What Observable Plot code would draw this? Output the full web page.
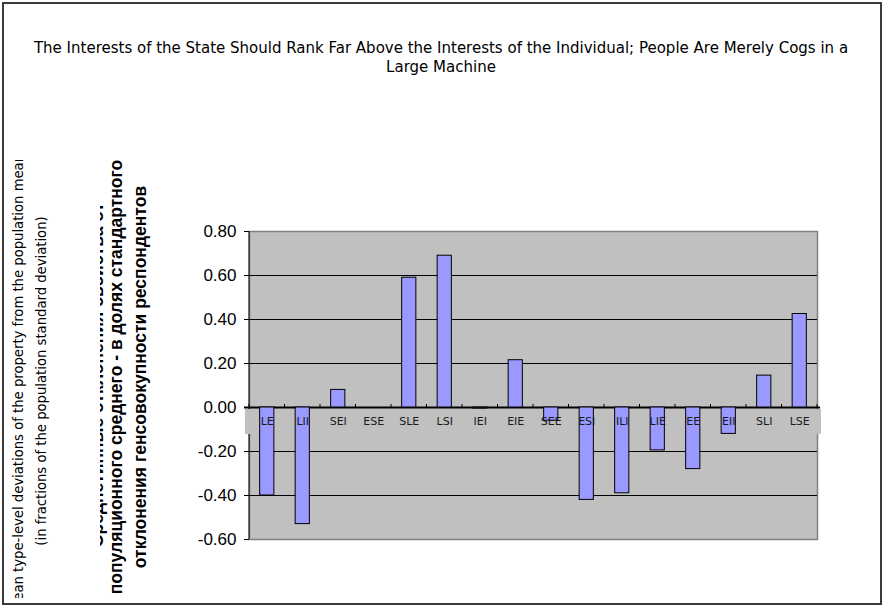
<!DOCTYPE html>
<html><head><meta charset="utf-8">
<script src="https://cdn.jsdelivr.net/npm/d3@7"></script>
<script src="https://cdn.jsdelivr.net/npm/@observablehq/plot@0.6"></script>
<style>
body{margin:0;background:#fff;}
#wrap{position:relative;width:884px;height:607px;overflow:hidden;background:#fff;}
#chart{position:absolute;left:0;top:0;}
.frame{position:absolute;left:2px;top:2px;width:876px;height:599px;border:2px solid #3a3a3a;pointer-events:none;}
.title{position:absolute;left:10px;width:862px;top:39px;text-align:center;font-family:"DejaVu Sans";font-size:15px;line-height:19px;color:#000;}
.clip{position:absolute;overflow:hidden;}
.rot{position:absolute;white-space:nowrap;text-align:center;transform:rotate(-90deg);transform-origin:50% 50%;}
.en{font-family:"DejaVu Sans";font-size:13.2px;line-height:16px;color:#000;}
.ru{font-family:"Liberation Sans",Arial,sans-serif;font-weight:bold;font-size:17.5px;line-height:22px;color:#000;}
</style></head>
<body>
<div id="wrap">
  <div id="chart"></div>
  <div class="title">The Interests of the State Should Rank Far Above the Interests of the Individual; People Are Merely Cogs in a<br>Large Machine</div>
  <div class="clip" id="enclip" style="left:4px;top:160px;width:60px;height:438px;"></div>
  <div class="clip" id="ruclip" style="left:100px;top:156px;width:60px;height:444px;"></div>
  <div class="frame"></div>
</div>
<script>
const categories = ["LE","LII","SEI","ESE","SLE","LSI","IEI","EIE","SEE","ESI","ILI","LIE","EE","EII","SLI","LSE"];
const values = [-0.40,-0.53,0.08,0.00,0.59,0.69,-0.005,0.215,-0.06,-0.42,-0.39,-0.195,-0.28,-0.12,0.145,0.425];
const yTicks = [-0.6,-0.4,-0.2,0,0.2,0.4,0.6,0.8];
const gridTicks = [-0.4,-0.2,0.2,0.4,0.6];
const titleEn = ["Mean type-level deviations of the property from the population mean",
                 "(in fractions of the population standard deviation)"];
const titleRu = ["Среднетипные отклонения свойства от",
                 "популяционного среднего - в долях стандартного",
                 "отклонения генсовокупности респондентов"];

const data = categories.map((c, i) => ({category: c, value: values[i]}));

const W = 884, H = 607, mL = 249, mR = 67, mT = 231, mB = 68;

// left axis line
const axisLine = (index, scales, vals, dims) =>
  d3.create("svg:line")
    .attr("x1", dims.marginLeft).attr("x2", dims.marginLeft)
    .attr("y1", dims.marginTop).attr("y2", dims.height - dims.marginBottom)
    .attr("stroke", "#000").attr("stroke-width", 1).node();

// grey box behind category labels
const labelBox = (index, scales, vals, dims) => {
  const y0 = scales.y(0);
  return d3.create("svg:rect")
    .attr("x", dims.marginLeft - 4).attr("y", y0 + 2)
    .attr("width", dims.width - dims.marginLeft - dims.marginRight + 8)
    .attr("height", 25)
    .attr("fill", "#c0c0c0").node();
};

// small category ticks on zero line
const zeroTicks = (index, scales, vals, dims) => {
  const y0 = scales.y(0);
  const g = d3.create("svg:g").attr("stroke", "#000");
  const inner = dims.width - dims.marginLeft - dims.marginRight;
  const n = categories.length;
  for (let k = 0; k <= n; k++) {
    const xx = dims.marginLeft + k * inner / n;
    g.append("line").attr("x1", xx).attr("x2", xx).attr("y1", y0 - 3).attr("y2", y0);
  }
  return g.node();
};

const chart = Plot.plot({
  width: W, height: H,
  marginLeft: mL, marginRight: mR, marginTop: mT, marginBottom: mB,
  style: {background: "transparent", fontFamily: "'Liberation Sans', Arial, sans-serif", fontSize: "17px", color: "#000"},
  x: {domain: categories, paddingInner: 0.6, paddingOuter: 0.3, round: false, axis: null},
  y: {domain: [-0.6, 0.8], axis: null},
  marks: [
    Plot.frame({fill: "#c0c0c0", stroke: "#808080", strokeWidth: 1.5}),
    Plot.ruleY(gridTicks, {stroke: "#000", strokeWidth: 1}),
    axisLine,
    labelBox,
    Plot.ruleY([0], {stroke: "#000", strokeWidth: 2, insetLeft: -5, insetRight: -3}),
    zeroTicks,
    Plot.barY(data, {x: "category", y: "value", fill: "#9999ff", stroke: "#000", strokeWidth: 1}),
    Plot.text(data, {x: "category", y: 0, text: "category", dy: 14, fontSize: 11, fill: "#1a1a1a", fontFamily: "DejaVu Sans"}),
    Plot.axisY({ticks: yTicks, tickFormat: d => d.toFixed(2), tickSize: 5, tickPadding: 8, label: null, stroke: "#000"})
  ]
});
document.getElementById("chart").appendChild(chart);

function addRot(clipId, cls, text, cx, cy, clipLeft, clipTop) {
  const w = 600;
  const d = document.createElement("div");
  d.className = "rot " + cls;
  d.textContent = text;
  d.style.width = w + "px";
  document.getElementById(clipId).appendChild(d);
  const lh = d.getBoundingClientRect().width; // after rotation, width = line height
  d.style.left = (cx - clipLeft - w / 2) + "px";
  d.style.top = (cy - clipTop - lh / 2) + "px";
}
addRot("enclip", "en", titleEn[0], 19, 383, 4, 160);
addRot("enclip", "en", titleEn[1], 42, 381, 4, 160);
addRot("ruclip", "ru", titleRu[0], 97, 375, 100, 156);
addRot("ruclip", "ru", titleRu[1], 116, 377, 100, 156);
addRot("ruclip", "ru", titleRu[2], 139.5, 377, 100, 156);
</script>
</body></html>
